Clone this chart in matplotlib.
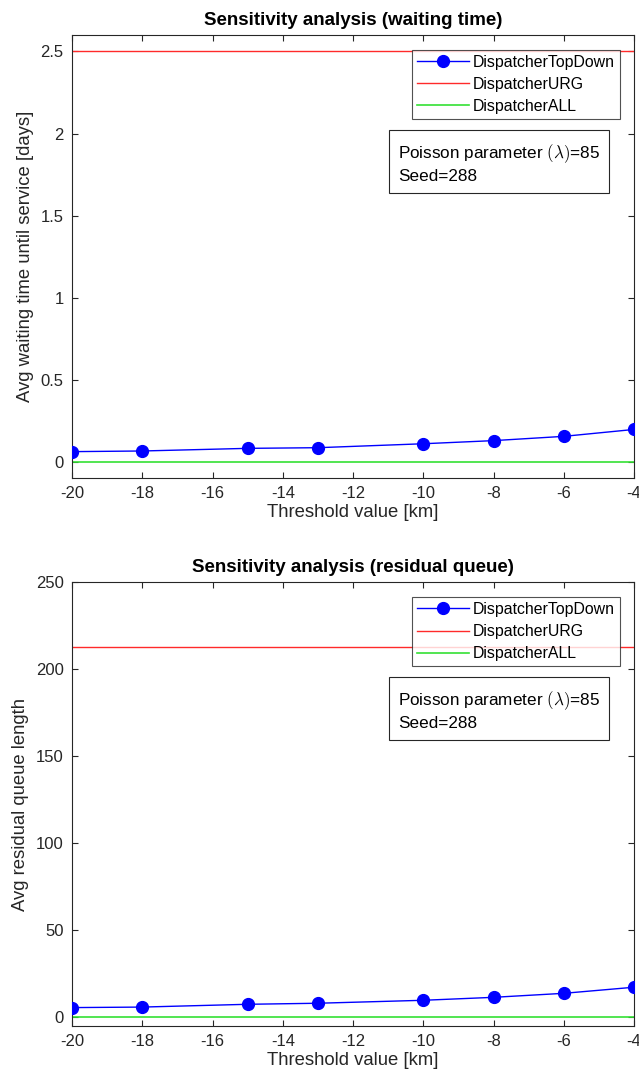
import numpy as np
import matplotlib.pyplot as plt

plt.rcParams['font.family'] = ['Liberation Sans', 'DejaVu Sans']
plt.rcParams['mathtext.fontset'] = 'cm'
plt.rcParams['axes.unicode_minus'] = False

# Threshold values [km]
thresholds = [-20, -18, -15, -13, -10, -8, -6, -4]

# Average waiting time until service [days]
wait_topdown = [0.065, 0.069, 0.085, 0.089, 0.113, 0.132, 0.158, 0.200]
wait_urg = 2.5
wait_all = 0.0

# Average residual queue length
queue_topdown = [5.6, 5.9, 7.5, 8.1, 9.8, 11.5, 13.8, 17.3]
queue_urg = 213.0
queue_all = 0.0

xticks = [-20, -18, -16, -14, -12, -10, -8, -6, -4]

fig = plt.figure(figsize=(6.39, 10.86), dpi=100)
ax1 = fig.add_axes([0.1127, 0.5599, 0.8795, 0.408])
ax2 = fig.add_axes([0.1127, 0.0552, 0.8795, 0.4088])

txt = '#262626'


def draw(ax, topdown, urg, all_, title, ylabel, ylim, yticks, yticklabels):
    ax.plot(thresholds, topdown, '-o', color='blue', lw=1, ms=8.5,
            label='DispatcherTopDown', zorder=3)
    ax.plot([thresholds[0], thresholds[-1]], [urg, urg], color='#ff2a2a',
            lw=1, label='DispatcherURG')
    ax.plot([thresholds[0], thresholds[-1]], [all_, all_], color='#33e033',
            lw=1.2, label='DispatcherALL')
    ax.set_xlim(-20, -4)
    ax.set_ylim(*ylim)
    ax.set_xticks(xticks)
    ax.set_yticks(yticks)
    ax.set_yticklabels(yticklabels)
    ax.tick_params(direction='in', length=4, labelsize=12, colors=txt,
                   top=True, right=True, pad=6)
    for s in ax.spines.values():
        s.set_color(txt)
        s.set_linewidth(0.8)
    ax.set_title(title, fontsize=13.5, fontweight='bold', pad=7)
    ax.set_xlabel('Threshold value [km]', fontsize=13.3, color=txt, labelpad=2)
    ax.set_ylabel(ylabel, fontsize=13.3, color=txt, labelpad=5)
    leg = ax.legend(loc='upper right', bbox_to_anchor=(0.975, 0.966),
                    fontsize=11.4, frameon=True, fancybox=False,
                    edgecolor=txt, borderpad=0.3, labelspacing=0.45,
                    handlelength=3.3, handletextpad=0.25, borderaxespad=0)
    leg.get_frame().set_linewidth(0.8)
    ax.text(0.580, 0.758, 'Poisson parameter $(\\lambda)$=85\nSeed=288',
            transform=ax.transAxes, fontsize=12.3, color='black', va='top',
            linespacing=1.35,
            bbox=dict(boxstyle='square,pad=0.5', fc='white', ec=txt, lw=0.8))


draw(ax1, wait_topdown, wait_urg, wait_all,
     'Sensitivity analysis (waiting time)',
     'Avg waiting time until service [days]',
     (-0.095, 2.6), [0, 0.5, 1, 1.5, 2, 2.5],
     ['0', '0.5', '1', '1.5', '2', '2.5'])
draw(ax2, queue_topdown, queue_urg, queue_all,
     'Sensitivity analysis (residual queue)',
     'Avg residual queue length',
     (-5, 250), [0, 50, 100, 150, 200, 250],
     ['0', '50', '100', '150', '200', '250'])

fig.savefig('out.png', dpi=100)
